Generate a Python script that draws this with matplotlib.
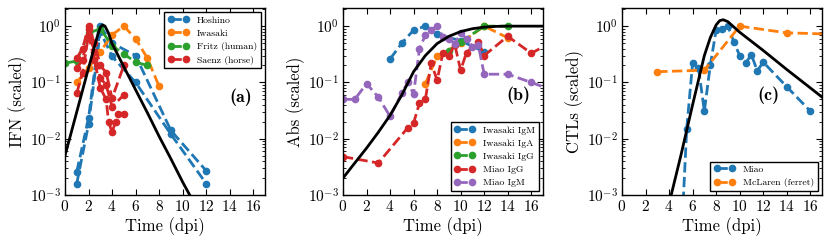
import numpy as np
import matplotlib
matplotlib.use("Agg")
import matplotlib.pyplot as plt

plt.rcParams.update({
    "font.family": "serif",
    "font.serif": ["cmr10"],
    "mathtext.fontset": "cm",
    "axes.formatter.use_mathtext": True,
    "axes.unicode_minus": False,
    "xtick.direction": "in", "ytick.direction": "in",
    "xtick.top": True, "ytick.right": True,
    "xtick.major.size": 4, "ytick.major.size": 4,
    "xtick.minor.size": 2, "ytick.minor.size": 2,
    "legend.numpoints": 2,
})

C = ["#1f77b4", "#ff7f0e", "#2ca02c", "#d62728", "#9467bd"]

# ---------------- Panel (a): IFN ----------------
hosh_a_x = [1, 2, 3, 4, 6, 9, 12]
hosh_a_y = [2.6e-3, 0.023, 1.0, 0.5, 0.3, 0.014, 2.7e-3]
hosh_b_x = [1, 2, 3, 4, 6, 9, 12]
hosh_b_y = [1.6e-3, 0.018, 0.8, 0.29, 0.1, 0.012, 1.6e-3]
iwa_x = [1, 2, 3, 4, 5, 6, 7, 8]
iwa_y = [0.1, 0.18, 0.35, 0.7, 1.0, 0.6, 0.27, 0.085]
fritz_x = [0, 1, 2, 3, 4, 5, 6, 7]
fritz_y = [0.22, 0.24, 0.75, 0.9, 0.45, 0.32, 0.23, 0.2]
saenz1_x = [1, 1.5, 2, 2.5, 3, 3.5, 4, 5]
saenz1_y = [0.27, 0.4, 1.0, 0.5, 0.2, 0.15, 0.052, 0.2]
saenz2_x = [1, 1.5, 2, 2.5, 3, 3.5, 4, 5]
saenz2_y = [0.18, 0.25, 0.9, 0.35, 0.12, 0.09, 0.037, 0.06]
saenz3_x = [1, 1.5, 2, 2.5, 3, 3.5, 3.7, 4, 4.3, 4.5, 5]
saenz3_y = [0.065, 0.15, 0.7, 0.25, 0.08, 0.05, 0.02, 0.013, 0.02, 0.028, 0.028]
model_a_x = [0, 1, 2, 2.5, 2.8, 3.0, 3.2, 3.4, 3.7, 4, 5, 6, 7, 8, 9, 10, 10.6, 11]
model_a_y = [5e-3, 0.03, 0.18, 0.43, 0.72, 0.95, 1.05, 1.0, 0.75, 0.49, 0.19, 0.074,
             0.029, 0.011, 4.4e-3, 1.7e-3, 1.0e-3, 7e-4]

# ---------------- Panel (b): Abs ----------------
igm_x = [4, 5, 6, 7, 8, 10, 12]
igm_y = [0.26, 0.5, 0.85, 1.0, 0.72, 0.55, 0.35]
iga_x = [7, 8, 10, 12, 14]
iga_y = [0.095, 0.29, 0.5, 1.0, 0.62]
igg_x = [9, 10, 12, 14]
igg_y = [0.36, 0.52, 1.0, 1.0]
miao_igg_x = [0, 3, 5.5, 6, 6.5, 7, 7.5, 8, 8.5, 9, 9.5, 10, 10.5, 11.5, 12, 14, 16, 18]
miao_igg_y = [4.8e-3, 3.7e-3, 0.0156, 0.019, 0.043, 0.05, 0.22, 0.11, 0.34, 0.3, 0.47,
              0.165, 0.34, 0.53, 0.3, 0.66, 0.33, 0.55]
miao_igm_x = [0, 1, 2, 3, 4, 5, 5.5, 6, 6.5, 7, 7.5, 8, 8.5, 9, 9.5, 10, 10.5, 11, 11.5, 12, 14, 16, 18]
miao_igm_y = [0.05, 0.05, 0.095, 0.055, 0.025, 0.064, 0.1, 0.062, 0.4, 0.69, 0.87, 1.0,
              0.65, 0.6, 0.49, 0.74, 0.6, 0.43, 0.46, 0.14, 0.14, 0.10, 0.07]
model_b_x = [0, 1, 2, 3, 4, 5, 6, 7, 8, 9, 10, 11, 12, 13, 14, 17]
model_b_y = [2e-3, 3.7e-3, 6.8e-3, 0.013, 0.026, 0.06, 0.155, 0.3, 0.49, 0.66, 0.8,
             0.9, 0.96, 0.99, 1.0, 1.0]

# ---------------- Panel (c): CTLs ----------------
miao_c_x = [5, 5.5, 6, 6.5, 7, 7.5, 8, 8.5, 9, 9.5, 10, 10.5, 11, 11.5, 12, 14, 16]
miao_c_y = [1e-4, 0.015, 0.22, 0.18, 0.031, 0.2, 0.85, 0.9, 1.0, 0.53, 0.3, 0.22,
            0.31, 0.16, 0.23, 0.084, 0.031]
mcl_x = [3, 7, 10, 14, 18]
mcl_y = [0.155, 0.165, 1.0, 0.76, 0.72]
model_c_x = [4.0, 5.0, 6.0, 7.0, 7.5, 8.0, 8.3, 8.6, 9.0, 10, 12, 14, 17]
model_c_y = [7e-4, 5e-3, 0.04, 0.3, 0.62, 1.05, 1.25, 1.3, 1.2, 0.78, 0.37, 0.17, 0.055]

fig = plt.figure(figsize=(8.3, 2.45), dpi=100)
W, H = 200 / 830, 187 / 245
B = 50 / 245
axa = fig.add_axes([65 / 830, B, W, H])
axb = fig.add_axes([343 / 830, B, W, H])
axc = fig.add_axes([622 / 830, B, W, H])

kw = dict(ls="--", marker="o", lw=2, ms=4.5)

axa.plot(hosh_a_x, hosh_a_y, color=C[0], label="Hoshino", **kw)
axa.plot(hosh_b_x, hosh_b_y, color=C[0], **kw)
axa.plot(iwa_x, iwa_y, color=C[1], label="Iwasaki", **kw)
axa.plot(fritz_x, fritz_y, color=C[2], label="Fritz (human)", **kw)
axa.plot(saenz1_x, saenz1_y, color=C[3], label="Saenz (horse)", **kw)
axa.plot(saenz2_x, saenz2_y, color=C[3], **kw)
axa.plot(saenz3_x, saenz3_y, color=C[3], **kw)
axa.plot(model_a_x, model_a_y, color="k", lw=2)

axb.plot(igm_x, igm_y, color=C[0], label="Iwasaki IgM", **kw)
axb.plot(iga_x, iga_y, color=C[1], label="Iwasaki IgA", **kw)
axb.plot(igg_x, igg_y, color=C[2], label="Iwasaki IgG", **kw)
axb.plot(miao_igg_x, miao_igg_y, color=C[3], label="Miao IgG", **kw)
axb.plot(miao_igm_x, miao_igm_y, color=C[4], label="Miao IgM", **kw)
axb.plot(model_b_x, model_b_y, color="k", lw=2)

axc.plot(miao_c_x, miao_c_y, color=C[0], label="Miao", **kw)
axc.plot(mcl_x, mcl_y, color=C[1], label="McLaren (ferret)", **kw)
axc.plot(model_c_x, model_c_y, color="k", lw=2)

ylabels = ["IFN (scaled)", "Abs (scaled)", "CTLs (scaled)"]
tags = ["(a)", "(b)", "(c)"]
tagpos = [(0.88, 0.525), (0.877, 0.535), (0.73, 0.535)]
legloc = ["upper right", "lower right", "lower right"]
for ax, yl, tg, tp, ll in zip([axa, axb, axc], ylabels, tags, tagpos, legloc):
    ax.set_yscale("log")
    ax.set_ylim(1e-3, 2.1)
    ax.set_xlim(0, 17)
    ax.set_xticks(range(0, 17, 2))
    ax.set_xlabel("Time (dpi)", fontsize=12, labelpad=2)
    ax.set_ylabel(yl, fontsize=12, labelpad=2)
    ax.tick_params(labelsize=11, pad=3)
    ax.text(tp[0], tp[1], tg, transform=ax.transAxes, fontsize=13,
            family="cmb10", ha="center", va="center")
    leg = ax.legend(loc=ll, fontsize=7, fancybox=False, framealpha=1,
                    edgecolor="k", borderaxespad=0.45, handlelength=2.2,
                    labelspacing=0.45, borderpad=0.35)
    leg.get_frame().set_linewidth(1.0)
    for s in ax.spines.values():
        s.set_linewidth(1.0)

fig.savefig("out.png", dpi=100)
